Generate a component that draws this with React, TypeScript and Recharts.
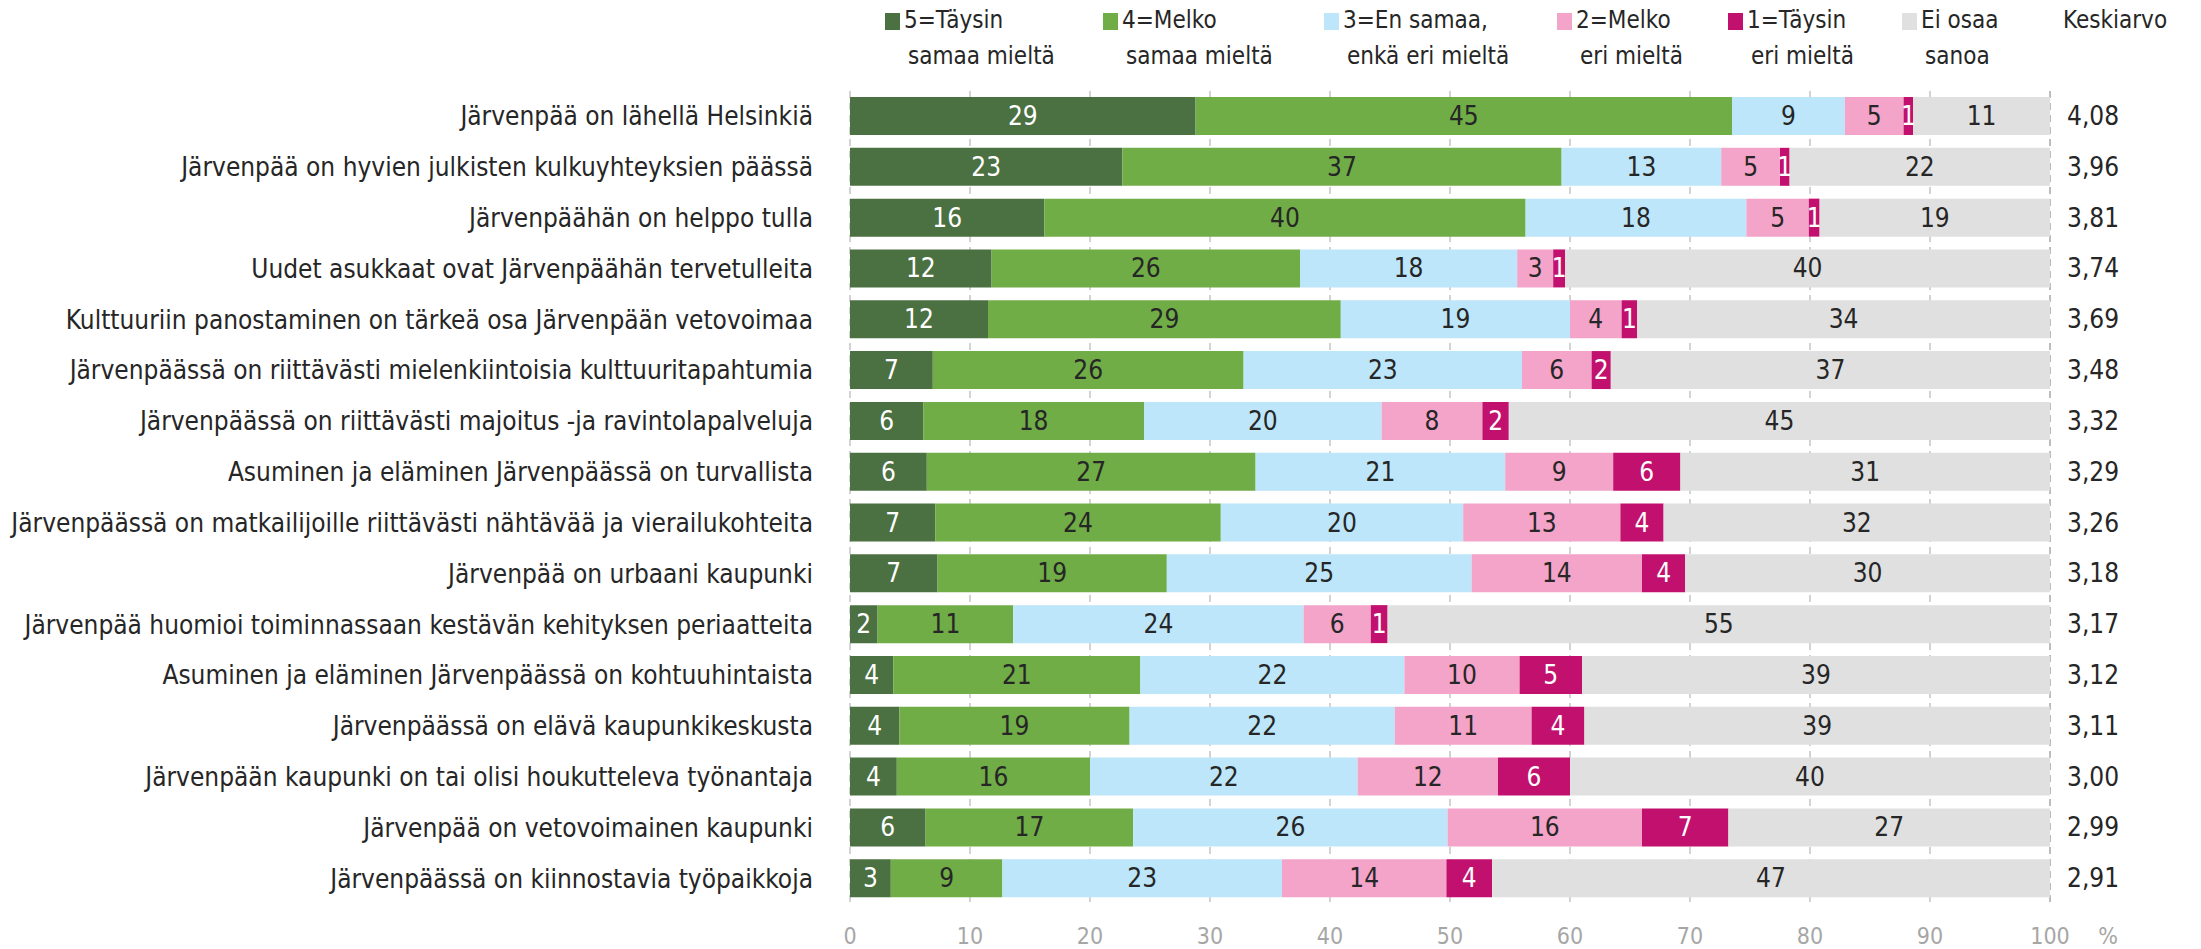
import React from "react";
import { BarChart, Bar, XAxis, YAxis, CartesianGrid, LabelList } from "recharts";

const categories = [
  "Järvenpää on lähellä Helsinkiä",
  "Järvenpää on hyvien julkisten kulkuyhteyksien päässä",
  "Järvenpäähän on helppo tulla",
  "Uudet asukkaat ovat Järvenpäähän tervetulleita",
  "Kulttuuriin panostaminen on tärkeä osa Järvenpään vetovoimaa",
  "Järvenpäässä on riittävästi mielenkiintoisia kulttuuritapahtumia",
  "Järvenpäässä on riittävästi majoitus -ja ravintolapalveluja",
  "Asuminen ja eläminen Järvenpäässä on turvallista",
  "Järvenpäässä on matkailijoille riittävästi nähtävää ja vierailukohteita",
  "Järvenpää on urbaani kaupunki",
  "Järvenpää huomioi toiminnassaan kestävän kehityksen periaatteita",
  "Asuminen ja eläminen Järvenpäässä on kohtuuhintaista",
  "Järvenpäässä on elävä kaupunkikeskusta",
  "Järvenpään kaupunki on tai olisi houkutteleva työnantaja",
  "Järvenpää on vetovoimainen kaupunki",
  "Järvenpäässä on kiinnostavia työpaikkoja",
];

const taysinSamaa = [28.8, 22.7, 16.2, 11.8, 11.5, 6.9, 6.1, 6.4, 7.1, 7.3, 2.3, 3.6, 4.1, 3.9, 6.3, 3.4];
const melkoSamaa = [44.7, 36.6, 40.1, 25.7, 29.4, 25.9, 18.4, 27.4, 23.8, 19.1, 11.3, 20.6, 19.2, 16.1, 17.3, 9.3];
const enSamaa = [9.4, 13.3, 18.4, 18.1, 19.1, 23.2, 19.8, 20.8, 20.2, 25.4, 24.2, 22.0, 22.1, 22.3, 26.2, 23.3];
const melkoEri = [4.9, 4.9, 5.2, 3.0, 4.3, 5.8, 8.4, 9.0, 13.1, 14.2, 5.6, 9.6, 11.4, 11.7, 16.2, 13.7];
const taysinEri = [0.8, 0.8, 0.9, 1.0, 1.3, 1.6, 2.2, 5.6, 3.6, 3.6, 1.4, 5.2, 4.4, 6.0, 7.2, 3.8];
const eiOsaa = [11.4, 21.7, 19.2, 40.4, 34.4, 36.6, 45.1, 30.8, 32.2, 30.4, 55.2, 39.0, 38.8, 40.0, 26.8, 46.5];
const keskiarvo = ["4,08", "3,96", "3,81", "3,74", "3,69", "3,48", "3,32", "3,29", "3,26", "3,18", "3,17", "3,12", "3,11", "3,00", "2,99", "2,91"];

const xTicks = [0, 10, 20, 30, 40, 50, 60, 70, 80, 90, 100];

const series = [
  { key: "s5", lines: ["5=Täysin", "samaa mieltä"], color: "#4b7041", text: "#ffffff", left: 885 },
  { key: "s4", lines: ["4=Melko", "samaa mieltä"], color: "#70ad47", text: "#262626", left: 1103 },
  { key: "s3", lines: ["3=En samaa,", "enkä eri mieltä"], color: "#bde6fa", text: "#262626", left: 1324 },
  { key: "s2", lines: ["2=Melko", "eri mieltä"], color: "#f4a3c9", text: "#262626", left: 1557 },
  { key: "s1", lines: ["1=Täysin", "eri mieltä"], color: "#c2106e", text: "#ffffff", left: 1728 },
  { key: "eos", lines: ["Ei osaa", "sanoa"], color: "#e0e0e0", text: "#262626", left: 1902 },
];

const data = categories.map((name, i) => ({
  name,
  s5: taysinSamaa[i],
  s4: melkoSamaa[i],
  s3: enSamaa[i],
  s2: melkoEri[i],
  s1: taysinEri[i],
  eos: eiOsaa[i],
  avg: keskiarvo[i],
}));

const FONT = "'Liberation Sans Narrow', 'DejaVu Sans Condensed', 'Open Sans', sans-serif";

const CategoryTick = (props: any) => {
  const { x, y, payload } = props;
  return (
    <text x={x - 29} y={y} textAnchor="end" dominantBaseline="central" fontSize={26} fill="#262626" fontFamily={FONT}>
      {payload.value}
    </text>
  );
};

const PercentTick = (props: any) => {
  const { x, y, payload } = props;
  return (
    <g>
      <text x={x} y={y + 24} textAnchor="middle" dominantBaseline="central" fontSize={23} fill="#a6a6a6" fontFamily={FONT}>
        {payload.value}
      </text>
      {payload.value === 100 && (
        <text x={x + 58} y={y + 24} textAnchor="middle" dominantBaseline="central" fontSize={23} fill="#a6a6a6" fontFamily={FONT}>
          %
        </text>
      )}
    </g>
  );
};

const makeValueLabel = (color: string) => (props: any) => {
  const { x, y, width, height, value } = props;
  return (
    <text x={x + width / 2} y={y + height / 2} textAnchor="middle" dominantBaseline="central" fontSize={26} fill={color} fontFamily={FONT}>
      {Math.round(value)}
    </text>
  );
};

const AvgLabel = (props: any) => {
  const { x, y, width, height, value } = props;
  return (
    <text x={x + width + 17} y={y + height / 2} textAnchor="start" dominantBaseline="central" fontSize={26} fill="#262626" fontFamily={FONT}>
      {value}
    </text>
  );
};

export default function App() {
  return (
    <div style={{ position: "absolute", left: 0, top: 0, width: 2201, height: 949, background: "#fff", fontFamily: FONT }}>
      {series.map((s) => (
        <div key={s.key} style={{ position: "absolute", left: s.left, top: 2, fontSize: 24, lineHeight: "36px", color: "#262626" }}>
          <span style={{ position: "absolute", left: 0, top: 11, width: 15, height: 17, background: s.color }} />
          <div style={{ paddingLeft: 19 }}>{s.lines[0]}</div>
          <div style={{ paddingLeft: 23 }}>{s.lines[1]}</div>
        </div>
      ))}
      <div style={{ position: "absolute", left: 2063, top: 2, fontSize: 24, lineHeight: "36px", color: "#262626" }}>Keskiarvo</div>
      <BarChart
        width={2201}
        height={949}
        data={data}
        layout="vertical"
        margin={{ top: 91, right: 151, bottom: 0, left: 0 }}
        barSize={38}
      >
        <CartesianGrid horizontal={false} vertical={true} stroke="#a6a6a6" strokeDasharray="7 5" />
        <XAxis
          type="number"
          domain={[0, 100]}
          ticks={xTicks}
          height={45}
          axisLine={false}
          tickLine={false}
          tick={<PercentTick />}
          interval={0}
        />
        <YAxis type="category" dataKey="name" width={850} axisLine={false} tickLine={false} tick={<CategoryTick />} interval={0} />
        {series.map((s) => (
          <Bar key={s.key} dataKey={s.key} stackId="a" fill={s.color} isAnimationActive={false}>
            <LabelList dataKey={s.key} content={makeValueLabel(s.text)} />
            {s.key === "eos" && <LabelList dataKey="avg" content={AvgLabel} />}
          </Bar>
        ))}
      </BarChart>
    </div>
  );
}
